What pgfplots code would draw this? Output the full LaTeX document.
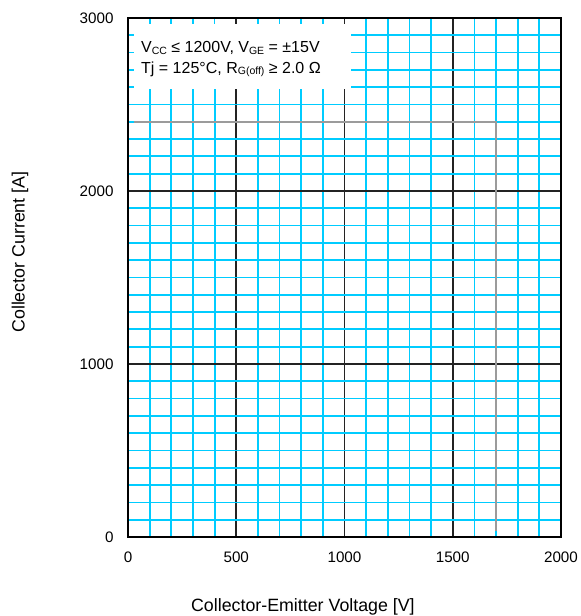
\documentclass[border=0pt]{standalone}
\usepackage{fontspec}
\setmainfont{Liberation Sans}
\usepackage{pgfplots}
\pgfplotsset{compat=1.18}
\definecolor{gridcyan}{RGB}{0,204,255}
\definecolor{maj}{RGB}{35,35,35}
\definecolor{soa}{RGB}{155,155,155}
\newcommand{\sub}[1]{\raisebox{-0.2ex}{\fontsize{10.5}{11}\selectfont #1}}
\pgfplotsset{base/.style={
 scale only axis, width=433pt, height=519pt,
 xmin=0, xmax=2000, ymin=0, ymax=3000,
 xtick={0,500,1000,1500,2000}, ytick={0,1000,2000,3000},
 minor xtick={100,200,300,400,600,700,800,900,1100,1200,1300,1400,1600,1700,1800,1900},
 minor ytick={100,200,300,400,500,600,700,800,900,1100,1200,1300,1400,1500,1600,1700,1800,1900,2100,2200,2300,2400,2500,2600,2700,2800,2900},
}}
\begin{document}
\fontsize{16}{19}\selectfont
\begin{tikzpicture}
\begin{axis}[base,
 grid=both,
 major grid style={maj, line width=1.6pt},
 minor grid style={gridcyan, line width=1.8pt},
 major tick length=0pt, minor tick length=0pt,
 xticklabels={}, yticklabels={},
 axis line style={draw=none},
]
\addplot[soa, line width=1.8pt] coordinates {(0,2400) (1700,2400) (1700,0)};
\fill[white] (axis cs:0,2590) rectangle (axis cs:1030,3000);
\end{axis}
\begin{axis}[base,
 grid=none,
 tick align=inside, major tick length=6pt, minor tick length=6pt,
 major tick style={maj, line width=1.6pt},
 minor tick style={gridcyan, line width=1.8pt},
 axis line style={black, line width=1.3pt},
 /pgf/number format/assume math mode=true,
 /pgf/number format/1000 sep={},
 tick label style={font=\fontsize{15.2}{18}\selectfont},
 xticklabel style={yshift=-9pt},
 yticklabel style={xshift=-9pt},
 xlabel={Collector-Emitter Voltage [V]},
 ylabel={Collector Current [A]},
 label style={font=\fontsize{17.8}{20}\selectfont},
 xlabel style={at={(axis description cs:0.404,0)}, anchor=center, yshift=-70pt},
 ylabel style={at={(axis description cs:-0.2494,0.549)}, anchor=center},
]
\node[anchor=base west, inner sep=0pt] at (axis description cs:0.030,0.9326) {V\sub{CC} ≤ 1200V, V\sub{GE} = ±15V};
\node[anchor=base west, inner sep=0pt] at (axis description cs:0.030,0.894) {Tj = 125°C, R\sub{G(off)} ≥ 2.0 Ω};
\end{axis}
\pgfresetboundingbox
\path[use as bounding box] ([shift={(-128pt,-79pt)}]current axis.south west) rectangle ([shift={(20pt,18pt)}]current axis.north east);
\end{tikzpicture}
\end{document}
